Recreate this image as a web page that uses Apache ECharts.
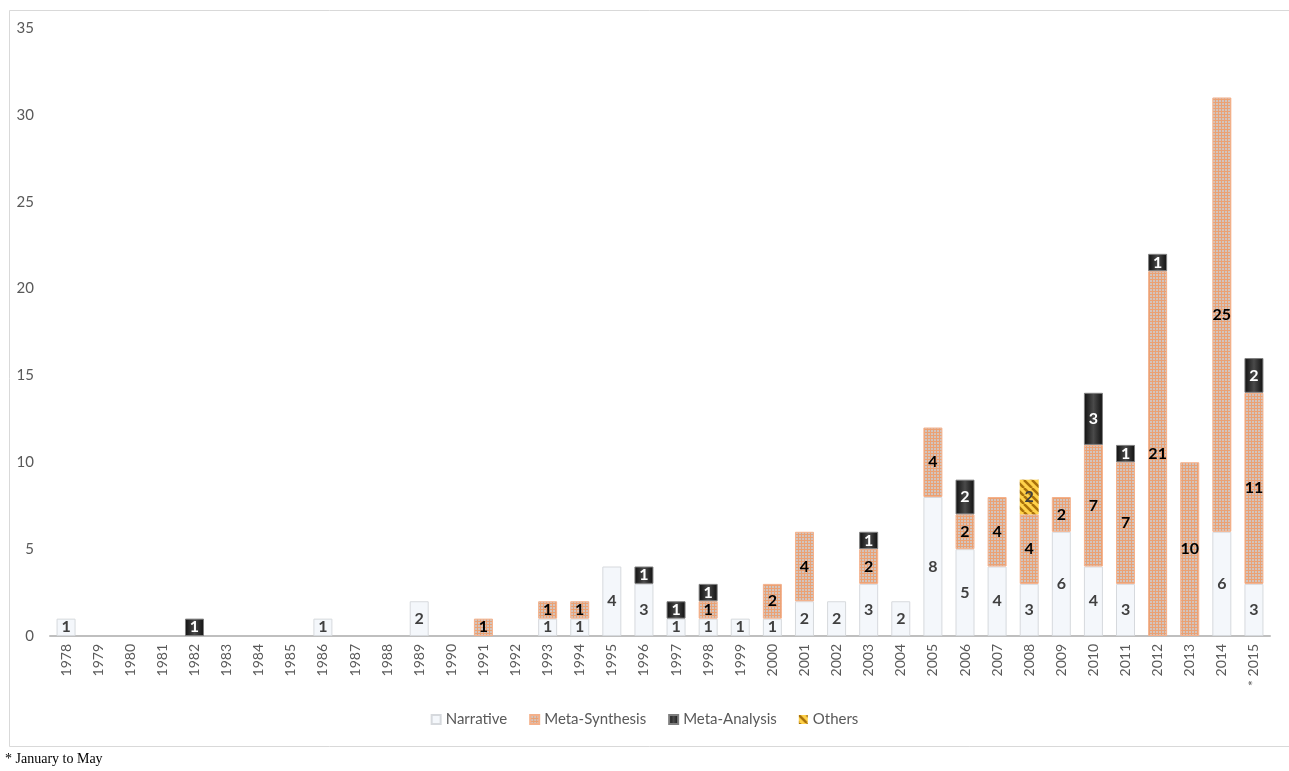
<!DOCTYPE html>
<html>
<head>
<meta charset="utf-8">
<script src="https://cdn.jsdelivr.net/npm/echarts@6/dist/echarts.min.js"></script>
<style>
  html, body { margin: 0; padding: 0; background: #fff; }
  #chart { width: 1289px; height: 771px; }
</style>
</head>
<body>
<div id="chart"></div>
<script>
// Publications per year by review type
const years = ['1978','1979','1980','1981','1982','1983','1984','1985','1986','1987','1988','1989',
  '1990','1991','1992','1993','1994','1995','1996','1997','1998','1999','2000','2001','2002','2003',
  '2004','2005','2006','2007','2008','2009','2010','2011','2012','2013','2014','* 2015'];

const narrative = [1,0,0,0,0,0,0,0,1,0,0,2, 0,0,0,1,1,4,3,1,1,1,1,2,2,3, 2,8,5,4,3,6,4,3,0,0,6,3];
const metaSynthesis = [0,0,0,0,0,0,0,0,0,0,0,0, 0,1,0,1,1,0,0,0,1,0,2,4,0,2, 0,4,2,4,4,2,7,7,21,10,25,11];
const metaAnalysis = [0,0,0,0,1,0,0,0,0,0,0,0, 0,0,0,0,0,0,1,1,1,0,0,0,0,1, 0,0,2,0,0,0,3,1,1,0,0,2];
const others = [0,0,0,0,0,0,0,0,0,0,0,0, 0,0,0,0,0,0,0,0,0,0,0,0,0,0, 0,0,0,0,2,0,0,0,0,0,0,0];

const yTicks = { min: 0, max: 35, interval: 5 };

// zero counts are left empty so no zero-height segment is drawn
const nz = arr => arr.map(v => (v ? v : null));

// dotted peach fill
function dotPattern() {
  const c = document.createElement('canvas');
  c.width = 3; c.height = 3;
  const g = c.getContext('2d');
  g.fillStyle = '#eba173';
  g.fillRect(0, 0, 3, 3);
  g.fillStyle = '#d2c4be';
  g.fillRect(1, 1, 2, 2);
  return { image: c, repeat: 'repeat' };
}

// gold diagonal stripes
function stripePattern() {
  const s = 8;
  const c = document.createElement('canvas');
  c.width = s; c.height = s;
  const g = c.getContext('2d');
  g.fillStyle = '#ffd24a';
  g.fillRect(0, 0, s, s);
  g.strokeStyle = '#a8700a';
  g.lineWidth = 2.5;
  [-s, 0, s].forEach(o => {
    g.beginPath();
    g.moveTo(o, 0);
    g.lineTo(o + s, s);
    g.stroke();
  });
  return { image: c, repeat: 'repeat' };
}

const darkGradient = new echarts.graphic.LinearGradient(0, 0, 1, 0, [
  { offset: 0, color: '#0f0f0f' },
  { offset: 0.5, color: '#4a4a4a' },
  { offset: 1, color: '#0f0f0f' }
]);

const fontFamily = 'Lato, "Open Sans", sans-serif';

function labelStyle(color) {
  return {
    show: true,
    position: 'inside',
    color: color,
    fontFamily: fontFamily,
    fontWeight: 'bold',
    fontSize: 16
  };
}

const chart = echarts.init(document.getElementById('chart'), null, { renderer: 'canvas' });

chart.setOption({
  animation: false,
  backgroundColor: '#fff',
  textStyle: { fontFamily: fontFamily },
  graphic: [
    {
      type: 'rect',
      left: 7, top: 8,
      shape: { width: 1281, height: 736 },
      style: { fill: 'none', stroke: '#d9d9d9', lineWidth: 1 },
      silent: true
    },
    {
      type: 'text',
      left: 5, top: 752,
      style: {
        text: '* January to May',
        fill: '#000',
        font: '14px "Liberation Serif", "Times New Roman", serif'
      }
    }
  ],
  grid: { left: 50, right: 19, top: 28, bottom: 135 },
  legend: {
    top: 707,
    left: 'center',
    icon: 'rect',
    itemWidth: 9,
    itemHeight: 9,
    itemGap: 22,
    textStyle: { color: '#595959', fontSize: 15, fontFamily: fontFamily },
    data: ['Narrative', 'Meta-Synthesis', 'Meta-Analysis', 'Others']
  },
  xAxis: {
    type: 'category',
    data: years,
    axisLine: { lineStyle: { color: '#bfbfbf', width: 2 } },
    axisTick: { show: false },
    axisLabel: {
      rotate: 90,
      interval: 0,
      margin: 8,
      color: '#595959',
      fontSize: 14,
      fontFamily: fontFamily
    }
  },
  yAxis: {
    type: 'value',
    min: yTicks.min,
    max: yTicks.max,
    interval: yTicks.interval,
    splitLine: { show: false },
    axisLine: { show: false },
    axisTick: { show: false },
    axisLabel: { color: '#595959', fontSize: 15, margin: 16, fontFamily: fontFamily }
  },
  series: [
    {
      name: 'Narrative',
      type: 'bar',
      stack: 'total',
      barWidth: 19,
      data: nz(narrative),
      itemStyle: { color: '#f4f7fb', borderColor: '#d6d9dd', borderWidth: 1 },
      label: labelStyle('#404040')
    },
    {
      name: 'Meta-Synthesis',
      type: 'bar',
      stack: 'total',
      barWidth: 19,
      data: nz(metaSynthesis),
      itemStyle: { color: dotPattern(), borderColor: '#f4b08a', borderWidth: 1 },
      label: labelStyle('#000')
    },
    {
      name: 'Meta-Analysis',
      type: 'bar',
      stack: 'total',
      barWidth: 19,
      data: nz(metaAnalysis),
      itemStyle: { color: darkGradient, borderColor: '#7f7f7f', borderWidth: 1 },
      label: labelStyle('#fff')
    },
    {
      name: 'Others',
      type: 'bar',
      stack: 'total',
      barWidth: 19,
      data: nz(others),
      itemStyle: { color: stripePattern() },
      label: labelStyle('#404040')
    }
  ]
});
</script>
</body>
</html>
